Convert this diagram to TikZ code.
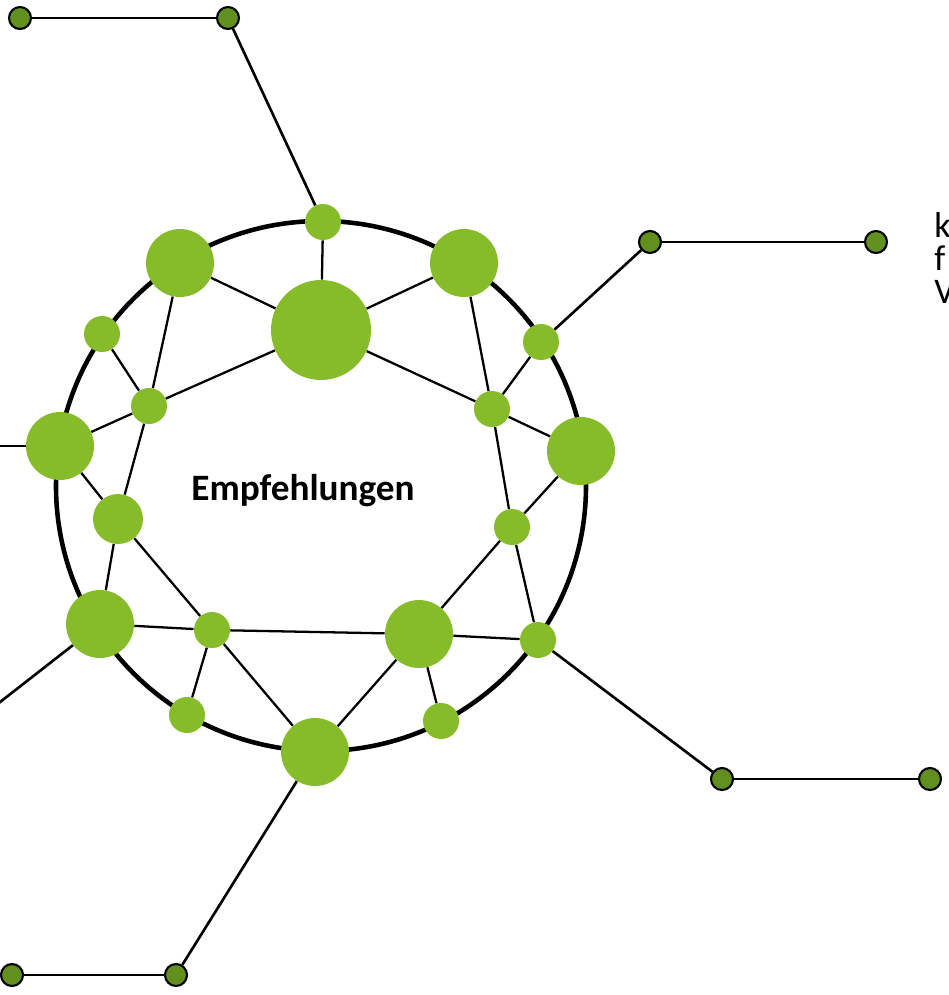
\documentclass[tikz,border=0pt]{standalone}
\usepackage{fontspec}
\setmainfont{Carlito}
\usepackage{tikz}
\usetikzlibrary{arrows, positioning}
\usepackage{xcolor}
\definecolor{leaf}{HTML}{86BC29}
\definecolor{moss}{HTML}{62901F}

\begin{document}
\begin{tikzpicture}[x=0.02cm,y=-0.02cm]
    \tikzstyle{dot}=[shape=circle,fill=leaf,inner sep=0pt,minimum size=0.72cm]
    \tikzstyle{big}=[dot,minimum size=1.36cm]
    \tikzstyle{mid}=[dot,minimum size=1cm]
    \tikzstyle{huge}=[dot,minimum size=2cm]
    \tikzstyle{outer}=[shape=circle,fill=moss,draw=black,line width=1.2pt,inner sep=0pt,minimum size=0.44cm]

    \useasboundingbox (0,0) rectangle (948,995);

    % ring
    \draw[line width=2.6pt] (321,486) circle (265);

    \node[dot] (R1) at (323,222) {};
    \node[big] (R2) at (464,263) {};
    \node[dot] (R3) at (541,342) {};
    \node[big] (R4) at (581,451) {};
    \node[dot] (R5) at (538,640) {};
    \node[dot] (R6) at (441,721) {};
    \node[big] (R7) at (315,752) {};
    \node[dot] (R8) at (187,715) {};
    \node[big] (R9) at (100,624) {};
    \node[big] (R10) at (60,446) {};
    \node[dot] (R11) at (102,334) {};
    \node[big] (R12) at (180,263) {};

    \node[huge] (C) at (321,330) {};
    \node[dot] (I1) at (492,409) {};
    \node[dot] (I2) at (512,527) {};
    \node[big] (I3) at (419,634) {};
    \node[dot] (I4) at (212,630) {};
    \node[mid] (I5) at (118,519) {};
    \node[dot] (I6) at (149,406) {};

    \node[outer] (O1) at (20,18) {};
    \node[outer] (O2) at (228,18) {};
    \node[outer] (O3) at (650,242) {};
    \node[outer] (O4) at (876,242) {};
    \node[outer] (O5) at (722,779) {};
    \node[outer] (O6) at (930,779) {};
    \node[outer] (O7) at (12,975) {};
    \node[outer] (O8) at (176,975) {};
    \coordinate (L1) at (-5,446);
    \coordinate (L2) at (-5,706);

    \node[font=\bfseries\fontsize{21.2}{24}\selectfont] (T) at (303,491) {Empfehlungen};
    \node[font=\fontsize{20.5}{18.8}\selectfont,align=left,anchor=north west,inner sep=0pt] (K) at (934,212) {k\\f\\V};

    \path[draw,line width=1.3pt]
    (R1) edge (C)
    (R12) edge (C)
    (R2) edge (C)
    (C) edge (I6)
    (C) edge (I1)
    (R12) edge (I6)
    (R11) edge (I6)
    (I6) edge (R10)
    (I6) edge (I5)
    (R2) edge (I1)
    (R3) edge (I1)
    (I1) edge (R4)
    (I1) edge (I2)
    (I2) edge (R4)
    (I2) edge (R5)
    (I2) edge (I3)
    (R10) edge (I5)
    (I5) edge (R9)
    (I5) edge (I4)
    (R9) edge (I4)
    (I4) edge (I3)
    (I3) edge (R5)
    (I4) edge (R8)
    (I4) edge (R7)
    (I3) edge (R7)
    (I3) edge (R6)
   ;

    \path[draw,line width=1.5pt]
    (O1) edge (O2)
    (O2) edge (R1)
    (O3) edge (O4)
    (O3) edge (R3)
    (O5) edge (O6)
    (O5) edge (R5)
    (O7) edge (O8)
    (O8) edge (R7)
    (R10) edge (L1)
    (R9) edge (L2)
   ;

\end{tikzpicture}
\end{document}
